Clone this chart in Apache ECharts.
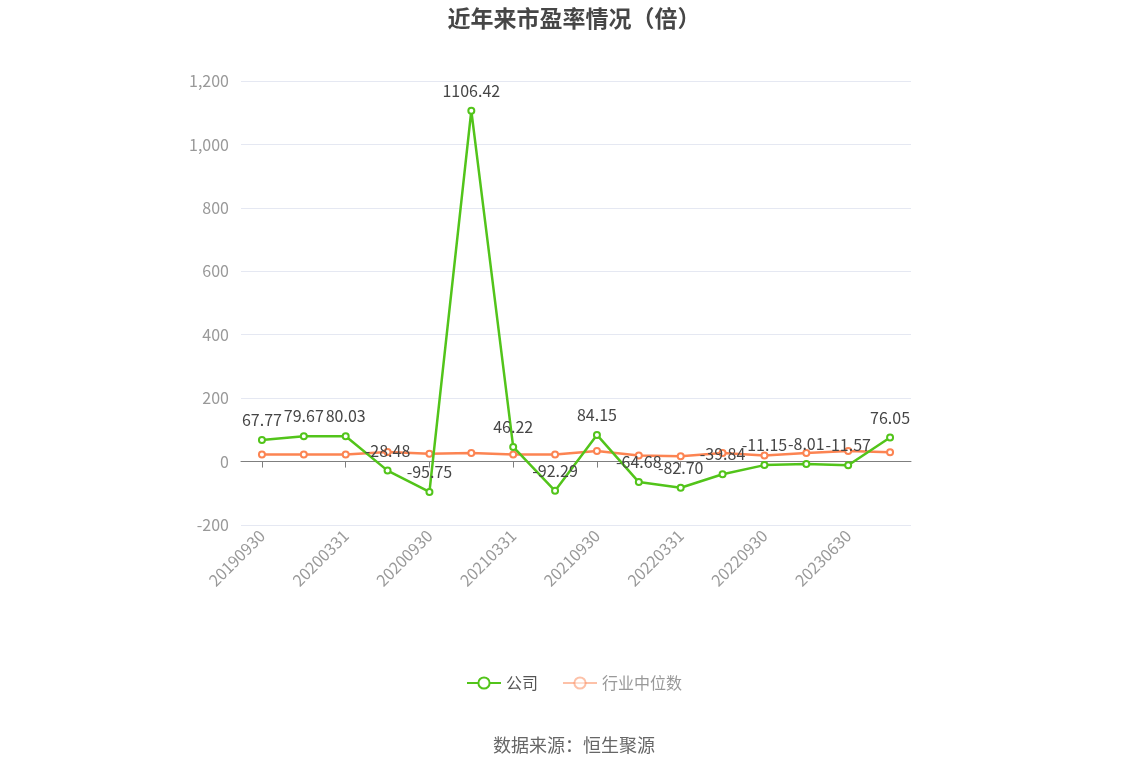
<!DOCTYPE html>
<html lang="zh">
<head>
    <meta charset="UTF-8">
    <title>近年来市盈率情况（倍）</title>
    <script src="https://cdn.jsdelivr.net/npm/echarts@6/dist/echarts.min.js"></script>
    <style>
        html, body { margin: 0; padding: 0; background: #fff; }
        #main { width: 1148px; height: 776px; }
    </style>
</head>
<body>
    <div id="main"></div>
    <script type="text/javascript">
        // 报告期
        var dates = ['20190930', '20191231', '20200331', '20200630', '20200930', '20201231',
                     '20210331', '20210630', '20210930', '20211231', '20220331', '20220630',
                     '20220930', '20221231', '20230630', '20230930'];
        // 公司市盈率
        var companyPE = [67.77, 79.67, 80.03, -28.48, -95.75, 1106.42, 46.22, -92.29,
                         84.15, -64.68, -82.70, -39.84, -11.15, -8.01, -11.57, 76.05];
        // 行业中位数（图上估读）
        var industryPE = [22, 22, 22, 30, 25, 27, 22, 22, 33, 19, 17, 27, 19, 27, 33, 29];
        var yTicks = [-200, 1200, 200];

        var font = '"Noto Sans CJK SC", "Microsoft YaHei", sans-serif';
        var chart = echarts.init(document.getElementById('main'));
        var option = {
            textStyle: { fontFamily: font },
            title: {
                text: '近年来市盈率情况（倍）',
                left: 'center',
                top: 2,
                textStyle: { fontSize: 23, fontWeight: 'bold', color: '#464646', fontFamily: font }
            },
            legend: {
                bottom: 80,
                left: 'center',
                itemWidth: 34,
                itemHeight: 14,
                itemGap: 24,
                textStyle: { fontSize: 16, color: '#555', fontFamily: font },
                data: [
                    { name: '公司' },
                    {
                        name: '行业中位数',
                        itemStyle: { opacity: 0.5 },
                        lineStyle: { opacity: 0.5 },
                        textStyle: { color: '#999' }
                    }
                ]
            },
            graphic: [{
                type: 'text',
                left: 'center',
                top: 736,
                style: { text: '数据来源：恒生聚源', fontSize: 18, fill: '#666', fontFamily: font }
            }],
            grid: { left: 241, right: 237, top: 81, bottom: 251 },
            xAxis: [{
                type: 'category',
                data: dates,
                boundaryGap: true,
                axisLine: { onZero: true, lineStyle: { color: '#7f7f7f' } },
                axisTick: { show: true, interval: 1, alignWithLabel: true, length: 6, lineStyle: { color: '#7f7f7f' } },
                axisLabel: { show: false, interval: 1 },
                splitLine: { show: false }
            }, {
                type: 'category',
                data: dates,
                position: 'bottom',
                boundaryGap: true,
                axisLine: { show: false, onZero: false },
                axisTick: { show: false },
                axisLabel: { interval: 1, rotate: 45, color: '#999', fontSize: 16, margin: 8, fontFamily: font },
                splitLine: { show: false }
            }],
            yAxis: {
                type: 'value',
                min: yTicks[0],
                max: yTicks[1],
                interval: yTicks[2],
                axisLine: { show: false },
                axisTick: { show: false },
                axisLabel: { color: '#999', fontSize: 16, margin: 12, fontFamily: font },
                splitLine: { lineStyle: { color: '#e5e8f2' } }
            },
            series: [{
                name: '公司',
                type: 'line',
                xAxisIndex: 0,
                data: companyPE,
                symbol: 'emptyCircle',
                symbolSize: 6,
                itemStyle: { color: '#52c41a', borderWidth: 2 },
                lineStyle: { width: 2.5, color: '#52c41a' },
                label: {
                    show: true,
                    position: 'top',
                    distance: 8,
                    color: '#464646',
                    fontSize: 16,
                    fontFamily: font,
                    formatter: function (p) { return p.value.toFixed(2); }
                },
                z: 3
            }, {
                name: '行业中位数',
                type: 'line',
                xAxisIndex: 0,
                data: industryPE,
                symbol: 'emptyCircle',
                symbolSize: 6,
                itemStyle: { color: '#fc8452', borderWidth: 2 },
                lineStyle: { width: 2.5, color: '#fc8452' },
                label: { show: false },
                z: 2
            }]
        };
        chart.setOption(option);
    </script>
</body>
</html>
